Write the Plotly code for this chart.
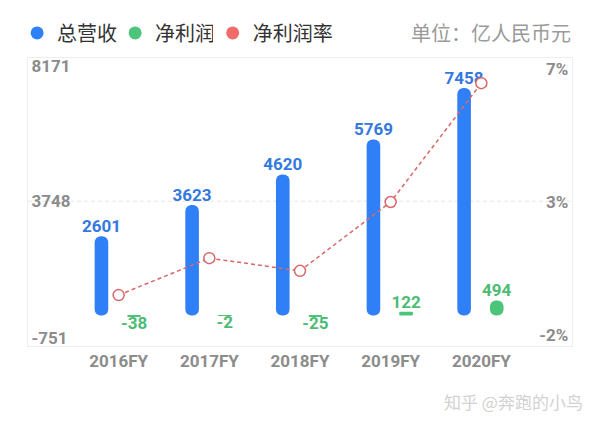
import numpy as np
import plotly.graph_objects as go

# ---------------- data ----------------
categories = ["2016FY", "2017FY", "2018FY", "2019FY", "2020FY"]
revenue = [2601, 3623, 4620, 5769, 7458]          # 总营收 (亿人民币元)
net_profit = [-38, -2, -25, 122, 494]             # 净利润 (亿人民币元)
net_margin = [-0.65, 0.60, 0.17, 2.50, 6.52]      # 净利润率 (%)
left_ticks = [-751, 3748, 8171]
left_tick_text = ["-751", "3748", "8171"]
right_ticks = [-2, 2.5, 7]
right_tick_text = ["-2%", "3%", "7%"]
series_names = ["总营收", "净利润", "净利润率"]
unit_text = "单位：亿人民币元"
watermark_text = "知乎 @奔跑的小鸟"

# ---------------- style ----------------
BLUE = "#2F80F6"
BLUE_TXT = "#3479E0"
GREEN = "#4CC47A"
GREEN_TXT = "#4DBB74"
RED = "#F26B6B"
RED_LINE = "#D9676A"
GRAY = "#8C8C8C"
FONT = "Roboto, 'Noto Sans CJK SC', sans-serif"
CJK = "'Noto Sans CJK SC', Roboto, sans-serif"

pos = np.arange(len(categories))
bar_w = 0.15
blue_shift = -0.19
green_shift = 0.17

fig = go.Figure()


def add_pill(xc, values, color):
    v = np.asarray(values, dtype=float)
    fig.add_trace(go.Bar(
        x=xc, y=v, base=np.zeros_like(v),
        width=bar_w, offset=-bar_w / 2,
        marker=dict(color=color, cornerradius="50%", line=dict(width=0)),
        showlegend=False, hoverinfo="skip",
    ))


add_pill(pos + blue_shift, revenue, BLUE)
add_pill(pos + green_shift, net_profit, GREEN)

# value labels
fig.add_trace(go.Scatter(
    x=pos + blue_shift, y=revenue, mode="text",
    text=[str(v) for v in revenue], textposition="top center",
    textfont=dict(family=FONT, size=17, color=BLUE_TXT, weight="bold"),
    showlegend=False, cliponaxis=False, hoverinfo="skip",
))
fig.add_trace(go.Scatter(
    x=pos + green_shift, y=net_profit, mode="text",
    text=[str(v) for v in net_profit],
    textposition=["top center" if v > 0 else "bottom center" for v in net_profit],
    textfont=dict(family=FONT, size=17, color=GREEN_TXT, weight="bold"),
    showlegend=False, cliponaxis=False, hoverinfo="skip",
))

# net margin line
fig.add_trace(go.Scatter(
    x=pos, y=net_margin, yaxis="y2", mode="lines+markers",
    line=dict(color=RED_LINE, width=1.5, dash="4px,3px"),
    marker=dict(symbol="circle", size=11, color="white",
                line=dict(color=RED_LINE, width=1.5)),
    showlegend=False, cliponaxis=False,
))

# legend entries (two legends so the last, longer label is not clipped)
for name, col, lg in zip(series_names, [BLUE, GREEN, RED], ["legend", "legend", "legend2"]):
    fig.add_trace(go.Scatter(
        x=[None], y=[None], mode="markers", name=name, legend=lg,
        marker=dict(symbol="circle", size=13, color=col),
    ))

# middle dashed gridline
fig.add_hline(y=left_ticks[1], line=dict(color="#E6E6E6", width=1, dash="4px,3px"),
              layer="below")

legend_font = dict(family=CJK, size=20, color="#333333")
fig.update_layout(
    width=600, height=425,
    margin=dict(l=28, r=28, t=58, b=79),
    paper_bgcolor="white", plot_bgcolor="white",
    barmode="overlay",
    font=dict(family=FONT),
    showlegend=True,
    legend=dict(orientation="h", x=-0.02, xanchor="left", y=1.087, yanchor="middle",
                entrywidth=53, entrywidthmode="pixels", font=legend_font,
                itemclick=False, itemdoubleclick=False),
    legend2=dict(orientation="h", x=0.3395, xanchor="left", y=1.087, yanchor="middle",
                 font=legend_font, itemclick=False, itemdoubleclick=False),
    xaxis=dict(range=[-1, 5], tickmode="array", tickvals=pos, ticktext=categories,
               tickfont=dict(family=FONT, size=17, color=GRAY, weight="bold"),
               showgrid=False, zeroline=False, ticks="",
               showline=True, mirror=True, linecolor="#EEEEEE", linewidth=1),
    yaxis=dict(range=[-1000, 8443], tickmode="array", tickvals=left_ticks,
               ticktext=left_tick_text, ticklabelposition="inside",
               ticklabeloverflow="allow",
               tickfont=dict(family=FONT, size=17, color=GRAY, weight="bold"),
               showgrid=False, zeroline=False, ticks="inside", ticklen=4,
               tickcolor="rgba(0,0,0,0)",
               showline=True, mirror=True, linecolor="#EEEEEE", linewidth=1),
    yaxis2=dict(range=[-2.372, 7.372], overlaying="y", side="right",
                tickmode="array", tickvals=right_ticks, ticktext=right_tick_text,
                ticklabelposition="inside", ticklabeloverflow="allow",
                tickfont=dict(family=FONT, size=17, color=GRAY, weight="bold"),
                showgrid=False, zeroline=False, ticks="inside", ticklen=4,
                tickcolor="rgba(0,0,0,0)", showline=False),
    annotations=[
        dict(text=unit_text, xref="paper", yref="paper", x=1.002, y=1.087,
             xanchor="right", yanchor="middle", showarrow=False,
             font=dict(family=CJK, size=20, color="#9A9A9A")),
        dict(text=watermark_text, xref="paper", yref="paper", x=1.024, y=-0.194,
             xanchor="right", yanchor="middle", showarrow=False,
             font=dict(family=CJK, size=17, color="#D2D2D2")),
    ],
)

fig.write_html("out.html")
